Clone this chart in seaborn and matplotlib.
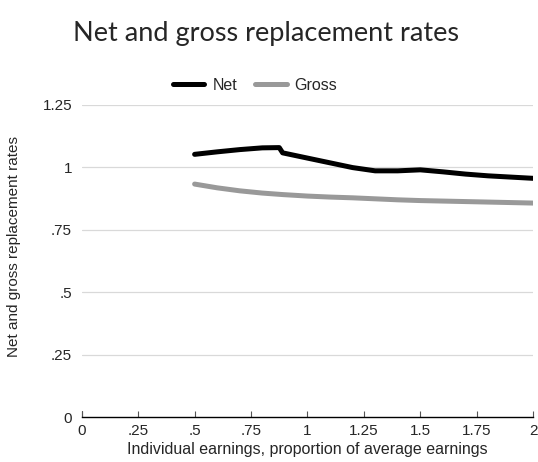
import pandas as pd
import matplotlib
matplotlib.use("Agg")
import matplotlib.pyplot as plt
import seaborn as sns

sns.set_style("white")
plt.rcParams["font.family"] = ["Liberation Sans", "DejaVu Sans"]

# Data
earnings = [0.5, 0.6, 0.7, 0.8, 0.875, 0.89, 1.0, 1.1, 1.2, 1.3, 1.4, 1.5,
            1.6, 1.7, 1.8, 1.9, 2.0]
net_rate = [1.052, 1.062, 1.071, 1.078, 1.079, 1.058, 1.037, 1.018, 0.999,
            0.986, 0.986, 0.990, 0.982, 0.973, 0.966, 0.961, 0.956]
gross_rate = [0.933, 0.918, 0.906, 0.897, 0.892, 0.891, 0.885, 0.881, 0.878,
              0.874, 0.870, 0.867, 0.865, 0.863, 0.861, 0.859, 0.857]
x_ticks = [0, 0.25, 0.5, 0.75, 1, 1.25, 1.5, 1.75, 2]
x_labels = ["0", ".25", ".5", ".75", "1", "1.25", "1.5", "1.75", "2"]
y_ticks = [0, 0.25, 0.5, 0.75, 1, 1.25]
y_labels = ["0", ".25", ".5", ".75", "1", "1.25"]

df = pd.DataFrame({"earnings": earnings * 2,
                   "rate": net_rate + gross_rate,
                   "series": ["Net"] * len(earnings) + ["Gross"] * len(earnings)})

fig = plt.figure(figsize=(5.38, 4.62), dpi=100)
ax = fig.add_axes([0.152, 0.097, 0.839, 0.676])

sns.lineplot(data=df, x="earnings", y="rate", hue="series",
             palette={"Net": "black", "Gross": "#999999"},
             linewidth=3.6, ax=ax, legend=True)

ax.set_xlim(0, 2)
ax.set_ylim(0, 1.25)
ax.set_xticks(x_ticks)
ax.set_xticklabels(x_labels)
ax.set_yticks(y_ticks)
ax.set_yticklabels(y_labels)
ax.tick_params(axis="x", direction="in", length=4, width=0.8, color="#555555",
               labelsize=11, pad=5, bottom=True)
ax.tick_params(axis="y", length=0, labelsize=11, pad=7)
for yv in y_ticks[1:]:
    ax.axhline(yv, color="#d9d9d9", linewidth=0.9, zorder=0)
for s in ["top", "right", "left"]:
    ax.spines[s].set_visible(False)
ax.spines["bottom"].set_color("black")
ax.spines["bottom"].set_linewidth(1.0)
ax.plot([0, 0], [0, 0.025], color="#555555", linewidth=0.8, clip_on=False)

ax.set_xlabel("Individual earnings, proportion of average earnings", fontsize=11.5, labelpad=3)
ax.set_ylabel("Net and gross replacement rates", fontsize=11)
ax.yaxis.set_label_coords(-0.135, 0.545)

ax.legend_.remove()
handles, labels = ax.get_legend_handles_labels()
fig.legend(handles, labels, loc="center", bbox_to_anchor=(0.474, 0.816),
           ncol=2, frameon=False, fontsize=11.5, handlelength=2.0,
           columnspacing=1.1, handletextpad=0.5)

fig.text(0.495, 0.928, "Net and gross replacement rates", ha="center",
         va="center", fontsize=19.5, family=["Lato", "DejaVu Sans"])

fig.savefig("out.png", dpi=100)
